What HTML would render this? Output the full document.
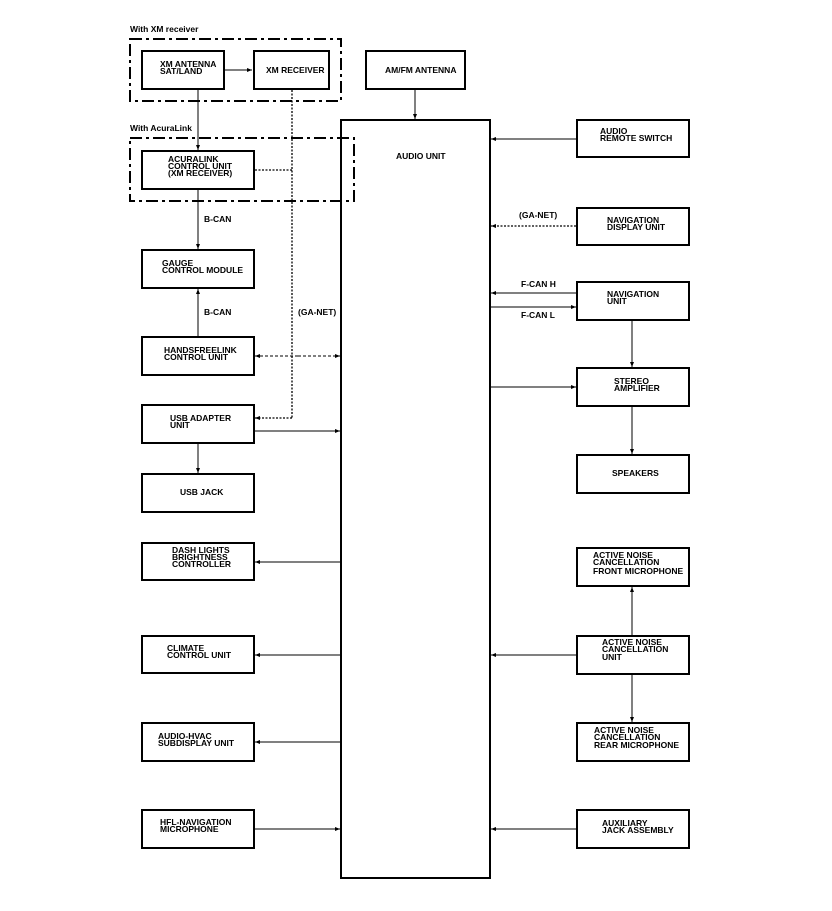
<!DOCTYPE html>
<html><head><meta charset="utf-8"><style>
html,body{margin:0;padding:0;background:#fff}
svg text{font-family:"Liberation Sans",sans-serif;font-size:8.5px;font-weight:bold;fill:#000}
</style></head><body>
<svg width="832" height="906" viewBox="0 0 832 906" xmlns="http://www.w3.org/2000/svg">
<defs>
<marker id="a" markerWidth="6" markerHeight="6" refX="5" refY="3" orient="auto" markerUnits="userSpaceOnUse"><path d="M0,1 L5,3 L0,5z" fill="#000"/></marker>
<pattern id="w" width="4" height="4" patternUnits="userSpaceOnUse"></pattern>
</defs>
<g fill="none" stroke="#000" stroke-width="1">
<!-- dashed groups -->
<rect x="130" y="39" width="211" height="62" stroke-width="2" stroke-dasharray="12,4,3,4"/>
<rect x="130" y="138" width="224" height="63" stroke-width="2" stroke-dasharray="12,4,3,4"/>
<!-- boxes left -->
<g stroke-width="2">
<rect x="142" y="51" width="82" height="38"/>
<rect x="254" y="51" width="75" height="38"/>
<rect x="366" y="51" width="99" height="38"/>
<rect x="341" y="120" width="149" height="758"/>
<rect x="142" y="151" width="112" height="38"/>
<rect x="142" y="250" width="112" height="38"/>
<rect x="142" y="337" width="112" height="38"/>
<rect x="142" y="405" width="112" height="38"/>
<rect x="142" y="474" width="112" height="38"/>
<rect x="142" y="543" width="112" height="37"/>
<rect x="142" y="636" width="112" height="37"/>
<rect x="142" y="723" width="112" height="38"/>
<rect x="142" y="810" width="112" height="38"/>
<rect x="577" y="120" width="112" height="37"/>
<rect x="577" y="208" width="112" height="37"/>
<rect x="577" y="282" width="112" height="38"/>
<rect x="577" y="368" width="112" height="38"/>
<rect x="577" y="455" width="112" height="38"/>
<rect x="577" y="548" width="112" height="38"/>
<rect x="577" y="636" width="112" height="38"/>
<rect x="577" y="723" width="112" height="38"/>
<rect x="577" y="810" width="112" height="38"/>
</g>
<!-- connectors -->
<line x1="224" y1="70" x2="252" y2="70" marker-end="url(#a)"/>
<line x1="415" y1="89" x2="415" y2="119" marker-end="url(#a)"/>
<line x1="198" y1="89" x2="198" y2="150" marker-end="url(#a)"/>
<line x1="198" y1="189" x2="198" y2="249" marker-end="url(#a)"/>
<line x1="198" y1="337" x2="198" y2="289" marker-end="url(#a)"/>
<line x1="198" y1="443" x2="198" y2="473" marker-end="url(#a)"/>
<line x1="254" y1="431" x2="340" y2="431" marker-end="url(#a)"/>
<line x1="341" y1="562" x2="255" y2="562" marker-end="url(#a)"/>
<line x1="341" y1="655" x2="255" y2="655" marker-end="url(#a)"/>
<line x1="341" y1="742" x2="255" y2="742" marker-end="url(#a)"/>
<line x1="254" y1="829" x2="340" y2="829" marker-end="url(#a)"/>
<line x1="298" y1="356" x2="340" y2="356" stroke-dasharray="3,2" marker-end="url(#a)"/>
<line x1="298" y1="356" x2="255" y2="356" stroke-dasharray="3,2" marker-end="url(#a)"/>
<!-- wavy GA-NET -->
<path d="M292,90 L292,418" stroke-dasharray="2,1.5" stroke-width="1.3"/>
<path d="M292,170 L255,170" stroke-dasharray="2,1.5" stroke-width="1.3"/>
<path d="M292,418 L255,418" stroke-dasharray="2,1.5" stroke-width="1.3" marker-end="url(#a)"/>
<path d="M576,226 L491,226" stroke-dasharray="2,1.5" stroke-width="1.3" marker-end="url(#a)"/>
<!-- right -->
<line x1="577" y1="139" x2="491" y2="139" marker-end="url(#a)"/>
<line x1="577" y1="293" x2="491" y2="293" marker-end="url(#a)"/>
<line x1="490" y1="307" x2="576" y2="307" marker-end="url(#a)"/>
<line x1="490" y1="387" x2="576" y2="387" marker-end="url(#a)"/>
<line x1="632" y1="320" x2="632" y2="367" marker-end="url(#a)"/>
<line x1="632" y1="406" x2="632" y2="454" marker-end="url(#a)"/>
<line x1="577" y1="655" x2="491" y2="655" marker-end="url(#a)"/>
<line x1="632" y1="636" x2="632" y2="587" marker-end="url(#a)"/>
<line x1="632" y1="674" x2="632" y2="722" marker-end="url(#a)"/>
<line x1="577" y1="829" x2="491" y2="829" marker-end="url(#a)"/>
</g>
<text x="130" y="32">With XM receiver</text>
<text x="130" y="131">With AcuraLink</text>
<text x="160" y="67">XM ANTENNA</text><text x="160" y="74">SAT/LAND</text>
<text x="266" y="73">XM RECEIVER</text>
<text x="385" y="73">AM/FM ANTENNA</text>
<text x="396" y="159">AUDIO UNIT</text>
<text x="168" y="162">ACURALINK</text><text x="168" y="169">CONTROL UNIT</text><text x="168" y="176">(XM RECEIVER)</text>
<text x="204" y="222">B-CAN</text>
<text x="162" y="266">GAUGE</text><text x="162" y="273">CONTROL MODULE</text>
<text x="204" y="315">B-CAN</text>
<text x="298" y="315">(GA-NET)</text>
<text x="164" y="353">HANDSFREELINK</text><text x="164" y="360">CONTROL UNIT</text>
<text x="170" y="421">USB ADAPTER</text><text x="170" y="428">UNIT</text>
<text x="180" y="495">USB JACK</text>
<text x="172" y="553">DASH LIGHTS</text><text x="172" y="560">BRIGHTNESS</text><text x="172" y="567">CONTROLLER</text>
<text x="167" y="651">CLIMATE</text><text x="167" y="658">CONTROL UNIT</text>
<text x="158" y="739">AUDIO-HVAC</text><text x="158" y="746">SUBDISPLAY UNIT</text>
<text x="160" y="825">HFL-NAVIGATION</text><text x="160" y="832">MICROPHONE</text>
<text x="600" y="134">AUDIO</text><text x="600" y="141">REMOTE SWITCH</text>
<text x="519" y="218">(GA-NET)</text>
<text x="607" y="223">NAVIGATION</text><text x="607" y="230">DISPLAY UNIT</text>
<text x="521" y="287">F-CAN H</text>
<text x="521" y="318">F-CAN L</text>
<text x="607" y="297">NAVIGATION</text><text x="607" y="304">UNIT</text>
<text x="614" y="384">STEREO</text><text x="614" y="391">AMPLIFIER</text>
<text x="612" y="476">SPEAKERS</text>
<text x="593" y="558">ACTIVE NOISE</text><text x="593" y="565">CANCELLATION</text><text x="593" y="574">FRONT MICROPHONE</text>
<text x="602" y="645">ACTIVE NOISE</text><text x="602" y="652">CANCELLATION</text><text x="602" y="660">UNIT</text>
<text x="594" y="733">ACTIVE NOISE</text><text x="594" y="740">CANCELLATION</text><text x="594" y="748">REAR MICROPHONE</text>
<text x="602" y="826">AUXILIARY</text><text x="602" y="833">JACK ASSEMBLY</text>
</svg>
</body></html>
